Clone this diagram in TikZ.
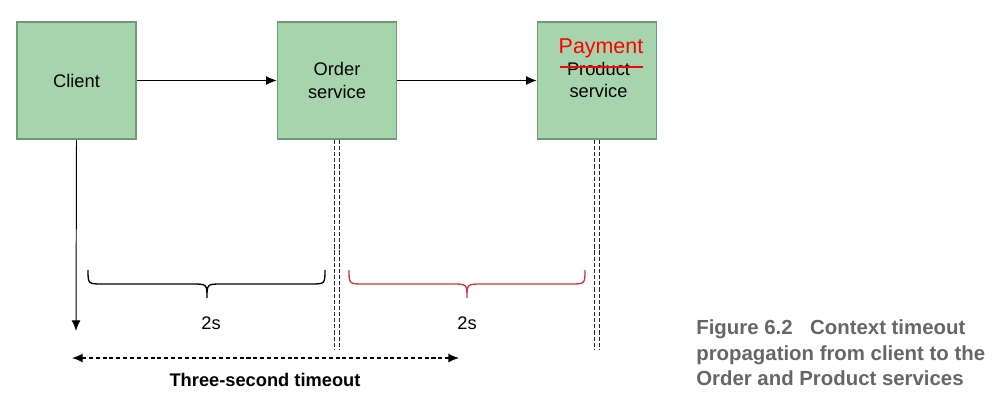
\documentclass[tikz,border=0pt]{standalone}
\usepackage{fontspec}
\setmainfont{Liberation Sans}
\usetikzlibrary{arrows.meta}
\definecolor{boxfill}{HTML}{A6D5AD}
\definecolor{boxline}{HTML}{6E9A78}
\definecolor{bracered}{HTML}{C4393D}
\definecolor{capgray}{HTML}{666666}
\tikzset{
  body/.style={font=\fontsize{10.4}{13}\selectfont},
  svc/.style={draw=boxline, line width=0.9pt, fill=boxfill, minimum width=2.38cm, minimum height=2.34cm, inner sep=0pt, align=center, body},
  flow/.style={-{Latex[length=6pt,width=5pt]}, line width=0.55pt},
  life/.style={dash pattern=on 2.4pt off 1.1pt, line width=0.75pt, black!85},
  brace/.style={line width=0.75pt},
}
\begin{document}
\begin{tikzpicture}[x=0.02cm,y=-0.02cm]
\useasboundingbox (0,0) rectangle (1005,413);
% boxes
\node[svc] (client) at (76.5,80.5) {Client};
\node[svc] (order) at (337,80.5) {Order\\service};
\node[svc] (pay) at (597,80.5) {};
\node[font=\fontsize{12.2}{14}\selectfont, text=red] (paytxt) at (601,48.5) {Payment};
\node[body, align=center] (prodtxt) at (598.5,80) {Product\\service};
\draw[red, line width=0.9pt] (560,67) -- (643,67);
% horizontal flows
\draw[flow] (client.east) -- (order.west);
\draw[flow] (order.east) -- (pay.west);
% client timeline
\coordinate (cend) at (76,331);
\draw[flow] (client.south) -- (cend);
% lifelines
\coordinate (o1) at (334.5,349);
\coordinate (o2) at (339.5,349);
\coordinate (p1) at (594.5,349);
\coordinate (p2) at (599.5,349);
\draw[life] (order.south -| o1) -- (o1);
\draw[life] (order.south -| o2) -- (o2);
\draw[life] (pay.south -| p1) -- (p1);
\draw[life] (pay.south -| p2) -- (p2);
% braces
\draw[brace] (88,270) .. controls (88,284) .. (103,284) -- (192,284) .. controls (207,284) .. (207,298)
   .. controls (207,284) .. (222,284) -- (310,284) .. controls (325,284) .. (325,270);
\draw[brace, bracered] (349,270) .. controls (349,284) .. (364,284) -- (452,284) .. controls (467,284) .. (467,298)
   .. controls (467,284) .. (482,284) -- (570,284) .. controls (585,284) .. (585,270);
\node[body] (t1) at (211,323) {2s};
\node[body] (t2) at (467,323) {2s};
% timeout arrow
\coordinate (ta) at (72,358);
\coordinate (tb) at (459,358);
\draw[{Latex[length=6pt,width=5pt]}-{Latex[length=6pt,width=5pt]}, dash pattern=on 2.3pt off 1.6pt, line width=0.6pt] (ta) -- (tb);
\node[font=\bfseries\fontsize{10.4}{13}\selectfont] (tt) at (265,380) {Three-second timeout};
% caption
\node[anchor=north west, align=left, text=capgray, font=\bfseries\fontsize{11.6}{14.5}\selectfont, inner sep=0pt] (cap) at (696,319.5)
 {Figure 6.2\hspace{10pt}Context timeout\\propagation from client to the\\Order and Product services};
\end{tikzpicture}
\end{document}
